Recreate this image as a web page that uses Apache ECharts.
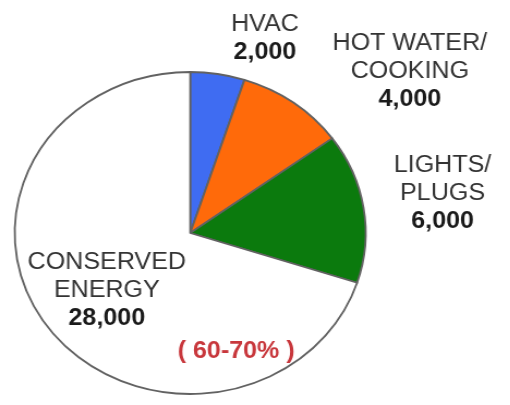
<!DOCTYPE html>
<html>
<head>
<meta charset="utf-8">
<script src="https://cdn.jsdelivr.net/npm/echarts@6/dist/echarts.min.js"></script>
<style>
html,body{margin:0;padding:0;background:#fff;overflow:hidden;}
#chart{width:468px;height:405px;transform:scaleX(1.09);transform-origin:0 0;}
</style>
</head>
<body>
<div id="chart"></div>
<script>
// data
var categories = ['HVAC', 'HOT WATER/\nCOOKING', 'LIGHTS/\nPLUGS', 'CONSERVED\nENERGY'];
var values = [2000, 4000, 6000, 28000];
var colors = ['#3f6cf2', '#ff6a0a', '#0b7a0d', '#ffffff'];
var noteText = '( 60-70% )';

// label centres (chart coordinates, before horizontal stretch)
var labelPos = [[243, 39], [376, 72], [406, 194], [98, 291]];

function fmt(v) { return String(v).replace(/\B(?=(\d{3})+(?!\d))/g, ','); }

var chart = echarts.init(document.getElementById('chart'), null, {renderer: 'canvas'});
var font = '"Liberation Sans", Arial, sans-serif';
chart.setOption({
  animation: false,
  backgroundColor: '#ffffff',
  title: {
    text: noteText,
    left: 163,
    top: 340,
    padding: 0,
    textStyle: {fontFamily: font, fontSize: 23, fontWeight: 'bold', color: '#c8373c'}
  },
  series: [{
    type: 'pie',
    center: [174.5, 233],
    radius: [0, 161],
    startAngle: 90,
    clockwise: true,
    avoidLabelOverlap: false,
    data: categories.map(function (c, i) {
      return {name: c, value: values[i], itemStyle: {color: colors[i]}};
    }),
    itemStyle: {borderColor: '#626262', borderWidth: 1.8},
    emphasis: {disabled: true},
    label: {
      show: true,
      position: 'outside',
      formatter: function (p) { return '{n|' + p.name.split('\n').join('}\n{n|') + '}\n{v|' + fmt(p.value) + '}'; },
      rich: {
        n: {fontFamily: font, fontSize: 23, color: '#333333', lineHeight: 28, align: 'center'},
        v: {fontFamily: font, fontSize: 23, fontWeight: 'bold', color: '#1a1a1a', lineHeight: 29, align: 'center'}
      }
    },
    labelLine: {show: false},
    labelLayout: function (p) {
      var pos = labelPos[p.dataIndex];
      return {x: pos[0], y: pos[1], align: 'center', verticalAlign: 'middle'};
    }
  }]
});
</script>
</body>
</html>
